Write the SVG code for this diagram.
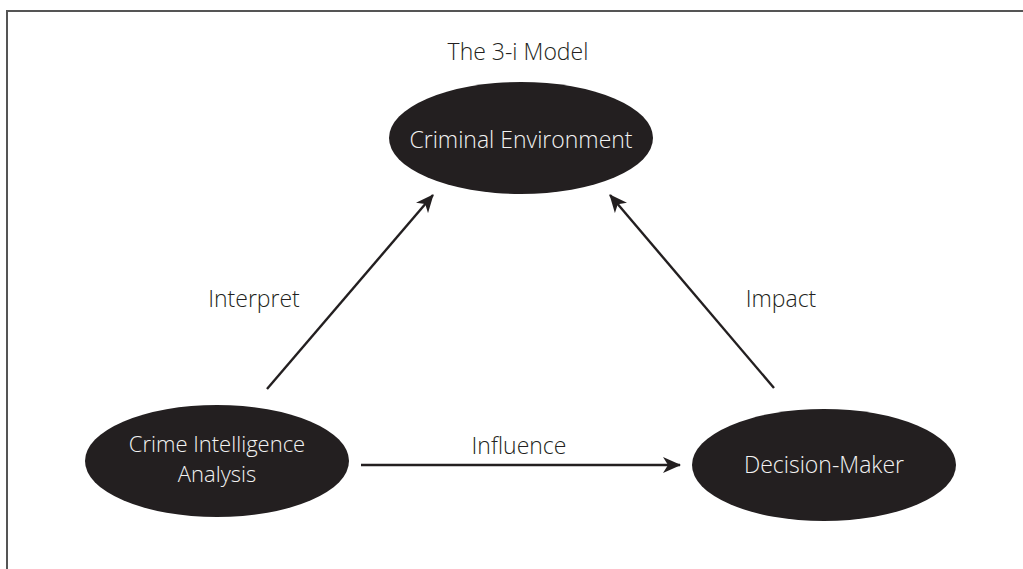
<svg xmlns="http://www.w3.org/2000/svg" width="1023" height="569" viewBox="0 0 1023 569">
  <defs>
    <style>
      .node { fill: #231f20; }
      .ntext { fill: #f2f2f2; font-family: "Open Sans", "Liberation Sans", sans-serif; font-weight: 300; font-size: 23px; text-anchor: middle; }
      .ntext2 { font-size: 22px; }
      .label { fill: #231f20; font-family: "Open Sans", "Liberation Sans", sans-serif; font-weight: 300; font-size: 23px; text-anchor: middle; }
      .conn { stroke: #231f20; stroke-width: 2.4; fill: none; marker-end: url(#arrow); }
    </style>
    <marker id="arrow" viewBox="0 0 18 16" refX="17" refY="8" markerWidth="18" markerHeight="16" markerUnits="userSpaceOnUse" orient="auto">
      <path d="M0,0 L18,8 L0,16 L5,8 Z" fill="#231f20"/>
    </marker>
  </defs>
  <rect width="1023" height="569" fill="#ffffff"/>
  <path d="M7,569 V11 H1023" fill="none" stroke="#555555" stroke-width="2"/>
  <text class="label" x="518" y="60">The 3-i Model</text>
  <g id="connectors">
    <line class="conn" x1="267" y1="389" x2="433" y2="195"/>
    <line class="conn" x1="774" y1="388" x2="610" y2="195"/>
    <line class="conn" x1="361" y1="465" x2="680" y2="465"/>
  </g>
  <g id="labels">
    <text class="label" x="254" y="307">Interpret</text>
    <text class="label" x="781" y="307">Impact</text>
    <text class="label" x="519" y="454">Influence</text>
  </g>
  <g id="node-criminal-environment">
    <ellipse class="node" cx="521" cy="138" rx="132" ry="56"/>
    <text class="ntext" x="521" y="148">Criminal Environment</text>
  </g>
  <g id="node-crime-intelligence-analysis">
    <ellipse class="node" cx="217" cy="461" rx="132" ry="56"/>
    <text class="ntext ntext2" x="217" y="452">Crime Intelligence</text>
    <text class="ntext ntext2" x="217" y="482">Analysis</text>
  </g>
  <g id="node-decision-maker">
    <ellipse class="node" cx="824" cy="465" rx="132" ry="56"/>
    <text class="ntext" x="824" y="473">Decision-Maker</text>
  </g>
</svg>
